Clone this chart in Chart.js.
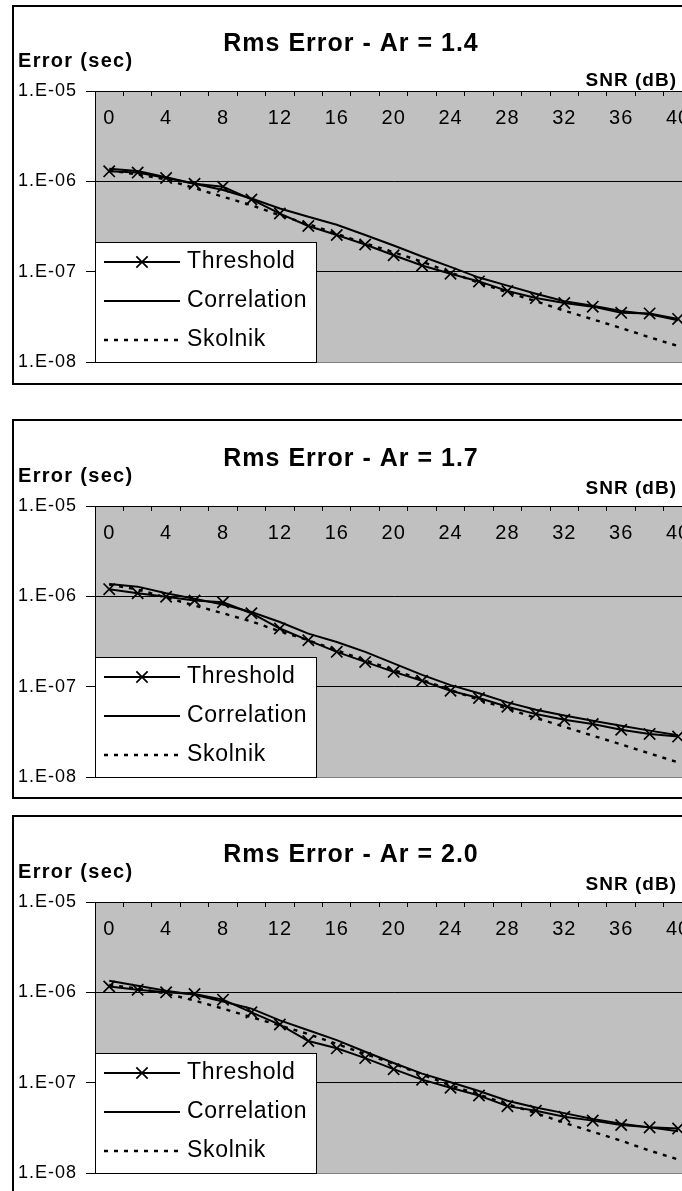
<!DOCTYPE html>
<html>
<head>
<meta charset="utf-8">
<script src="https://cdn.jsdelivr.net/npm/chart.js@4.4.1/dist/chart.umd.min.js"></script>
<style>
  html, body { margin: 0; padding: 0; background: #fff; overflow: hidden; width: 682px; height: 1191px; }
  .box { position: absolute; left: 12px; width: 720px; border: 2px solid #000; box-sizing: border-box; }
  canvas { position: absolute; left: 0; }
</style>
</head>
<body>
<div class="box" style="top:5px;height:380px"></div>
<div class="box" style="top:419px;height:380px"></div>
<div class="box" style="top:815px;height:400px"></div>
<canvas id="c14" width="702" height="380" style="top:5px"></canvas>
<canvas id="c17" width="702" height="380" style="top:420px"></canvas>
<canvas id="c20" width="702" height="380" style="top:816px"></canvas>
<script>
Chart.defaults.color = '#000000'
Chart.defaults.font.family = "'Liberation Sans', Arial, sans-serif"

// SNR in dB, one point every 2 dB
const snr = [0, 2, 4, 6, 8, 10, 12, 14, 16, 18, 20, 22, 24, 26, 28, 30, 32, 34, 36, 38, 40]
const yTicks = [1e-8, 1e-7, 1e-6, 1e-5]

// Ar = 1.4
const threshold14 = [1.29e-6, 1.25e-6, 1.09e-6, 9.4e-7, 8.7e-7, 6.3e-7, 4.4e-7, 3.2e-7, 2.55e-7, 2.0e-7, 1.52e-7,
  1.17e-7, 9.5e-8, 7.8e-8, 6.1e-8, 5.1e-8, 4.5e-8, 4.1e-8, 3.5e-8, 3.45e-8, 3.0e-8]
const correlation14 = [1.38e-6, 1.30e-6, 1.11e-6, 9.4e-7, 8.0e-7, 6.45e-7, 5.0e-7, 4.05e-7, 3.3e-7, 2.55e-7, 1.95e-7,
  1.47e-7, 1.13e-7, 8.6e-8, 7.0e-8, 5.7e-8, 4.7e-8, 4.2e-8, 3.66e-8, 3.37e-8, 2.9e-8]
const skolnik14 = [1.32e-6, 1.19e-6, 1.05e-6, 8.4e-7, 6.75e-7, 5.45e-7, 4.2e-7, 3.36e-7, 2.62e-7, 2.06e-7, 1.64e-7,
  1.29e-7, 9.8e-8, 7.5e-8, 5.9e-8, 4.7e-8, 3.7e-8, 2.97e-8, 2.37e-8, 1.88e-8, 1.5e-8]

// Ar = 1.7
const threshold17 = [1.2e-6, 1.08e-6, 9.9e-7, 9.0e-7, 8.6e-7, 6.5e-7, 4.4e-7, 3.26e-7, 2.43e-7, 1.88e-7, 1.46e-7,
  1.16e-7, 9.0e-8, 7.5e-8, 6.0e-8, 4.97e-8, 4.3e-8, 3.86e-8, 3.34e-8, 3.0e-8, 2.8e-8]
const correlation17 = [1.37e-6, 1.28e-6, 1.08e-6, 9.4e-7, 8.1e-7, 6.7e-7, 5.2e-7, 3.86e-7, 3.12e-7, 2.43e-7, 1.81e-7,
  1.35e-7, 1.04e-7, 8.45e-8, 6.7e-8, 5.55e-8, 4.8e-8, 4.2e-8, 3.7e-8, 3.26e-8, 2.9e-8]
const skolnik17 = [1.35e-6, 1.19e-6, 9.7e-7, 7.9e-7, 6.5e-7, 5.27e-7, 4.1e-7, 3.26e-7, 2.53e-7, 1.96e-7, 1.53e-7,
  1.19e-7, 9.2e-8, 7.15e-8, 5.7e-8, 4.5e-8, 3.6e-8, 2.87e-8, 2.29e-8, 1.82e-8, 1.45e-8]

// Ar = 2.0
const threshold20 = [1.16e-6, 1.07e-6, 1.0e-6, 9.6e-7, 8.3e-7, 6.0e-7, 4.4e-7, 2.89e-7, 2.4e-7, 1.87e-7, 1.41e-7,
  1.08e-7, 8.8e-8, 7.2e-8, 5.5e-8, 4.9e-8, 4.2e-8, 3.8e-8, 3.4e-8, 3.2e-8, 3.1e-8]
const correlation20 = [1.34e-6, 1.18e-6, 1.04e-6, 9.4e-7, 7.9e-7, 6.6e-7, 4.9e-7, 3.8e-7, 2.96e-7, 2.2e-7, 1.65e-7,
  1.26e-7, 1.01e-7, 8.1e-8, 6.3e-8, 5.3e-8, 4.6e-8, 3.96e-8, 3.5e-8, 3.2e-8, 2.9e-8]
const skolnik20 = [1.21e-6, 1.1e-6, 9.7e-7, 8.1e-7, 6.6e-7, 5.3e-7, 4.3e-7, 3.45e-7, 2.68e-7, 2.08e-7, 1.62e-7,
  1.23e-7, 9.3e-8, 7.4e-8, 5.8e-8, 4.6e-8, 3.6e-8, 2.86e-8, 2.28e-8, 1.77e-8, 1.41e-8]

// grey plot area, plus a bit of letter spacing for the Excel look
const plotBackground = {
  id: 'plotBackground',
  beforeDraw: function (chart) {
    const {
      ctx,
      chartArea: { left, top, width, height },
    } = chart
    ctx.letterSpacing = '1px'
    ctx.fillStyle = '#c0c0c0'
    ctx.fillRect(left, top, width, height)
  },
}

// "Error (sec)" and "SNR (dB)" sit above the plot
const axisNames = {
  id: 'axisNames',
  afterDraw: function (chart, args, options) {
    const { ctx, chartArea: { top } } = chart
    ctx.save()
    ctx.fillStyle = '#000'
    ctx.textBaseline = 'middle'
    ctx.letterSpacing = '1.3px'
    ctx.font = "bold 20px 'Liberation Sans', Arial, sans-serif"
    ctx.textAlign = 'left'
    ctx.fillText('Error (sec)', 18, top - 29.5)
    ctx.letterSpacing = '1px'
    ctx.font = "bold 19px 'Liberation Sans', Arial, sans-serif"
    ctx.textAlign = 'right'
    ctx.fillText('SNR (dB)', 677, top - options.snrGap)
    ctx.restore()
  },
}

// white legend box in the lower left corner of the plot
const boxLegend = {
  id: 'boxLegend',
  afterDatasetsDraw: function (chart) {
    const { ctx, chartArea: { left, bottom } } = chart
    const w = 221
    const h = 120
    ctx.save()
    ctx.fillStyle = '#fff'
    ctx.fillRect(left, bottom - h, w, h)
    ctx.strokeStyle = '#000'
    ctx.lineWidth = 1
    ctx.strokeRect(left + 0.5, bottom - h + 0.5, w, h)
    ctx.font = "23px 'Liberation Sans', Arial, sans-serif"
    ctx.letterSpacing = '0.7px'
    ctx.textBaseline = 'middle'
    ctx.fillStyle = '#000'
    chart.data.datasets.forEach((ds, i) => {
      const y = bottom - 100 + i * 39
      ctx.beginPath()
      ctx.setLineDash(ds.borderDash || [])
      ctx.lineWidth = ds.borderWidth
      ctx.moveTo(left + 9, y)
      ctx.lineTo(left + 85, y)
      ctx.stroke()
      ctx.setLineDash([])
      if (ds.pointRadius > 0) {
        const r = ds.pointRadius * Math.SQRT1_2
        const cx = left + 47
        ctx.lineWidth = ds.pointBorderWidth
        ctx.beginPath()
        ctx.moveTo(cx - r, y - r)
        ctx.lineTo(cx + r, y + r)
        ctx.moveTo(cx - r, y + r)
        ctx.lineTo(cx + r, y - r)
        ctx.stroke()
      }
      ctx.fillText(ds.label, left + 92, y)
    })
    ctx.restore()
  },
}

function createErrorChart(id, ar, threshold, correlation, skolnik, snrGap) {
  return new Chart(document.getElementById(id), {
    type: 'line',
    data: {
      labels: snr,
      datasets: [
        {
          label: 'Threshold',
          data: threshold,
          borderColor: '#000',
          borderWidth: 2,
          pointStyle: 'crossRot',
          pointRadius: 8,
          pointBorderWidth: 1.7,
          pointBorderColor: '#000',
        },
        {
          label: 'Correlation',
          data: correlation,
          borderColor: '#000',
          borderWidth: 2,
          pointRadius: 0,
        },
        {
          label: 'Skolnik',
          data: skolnik,
          borderColor: '#000',
          borderWidth: 2.4,
          borderDash: [4, 6],
          pointRadius: 0,
        },
      ],
    },
    options: {
      responsive: false,
      animation: false,
      devicePixelRatio: 1,
      layout: {
        padding: { left: 8, right: 8, top: 0, bottom: 23 },
      },
      plugins: {
        legend: { display: false },
        tooltip: { enabled: false },
        title: {
          display: true,
          text: 'Rms Error - Ar = ' + ar,
          font: { size: 25, weight: 'bold' },
          padding: { top: 24, bottom: 0 },
        },
        axisNames: { snrGap },
      },
      scales: {
        x: {
          position: 'top',
          offset: true,
          border: { display: true, color: '#000', width: 1 },
          grid: {
            offset: true,
            drawOnChartArea: false,
            color: '#000',
            tickLength: -5,
          },
          ticks: {
            mirror: true,
            padding: 15,
            autoSkip: false,
            maxRotation: 0,
            font: { size: 20 },
            callback: (value, index) => (index % 2 === 0 ? String(snr[index]) : ''),
          },
          afterFit: (scale) => {
            scale.height = 32
            scale.paddingLeft = 0
            scale.paddingRight = 0
          },
        },
        y: {
          type: 'logarithmic',
          min: 1e-8,
          max: 1e-5,
          border: { display: true, color: '#000', width: 1 },
          grid: {
            color: (c) => (c.tick && c.tick.value < 5e-8 ? '#808080' : '#000'),
            tickColor: '#000',
            tickLength: 9,
          },
          ticks: {
            padding: 9,
            font: { size: 18 },
            callback: (value) => '1.E-0' + Math.round(-Math.log10(value)),
          },
          afterBuildTicks: (scale) => {
            scale.ticks = yTicks.map((v) => ({ value: v }))
          },
          afterFit: (scale) => {
            scale.width = 87
          },
        },
      },
    },
    plugins: [plotBackground, axisNames, boxLegend],
  })
}

createErrorChart('c14', '1.4', threshold14, correlation14, skolnik14, 10.5)
createErrorChart('c17', '1.7', threshold17, correlation17, skolnik17, 17)
createErrorChart('c20', '2.0', threshold20, correlation20, skolnik20, 17)
</script>
</body>
</html>
